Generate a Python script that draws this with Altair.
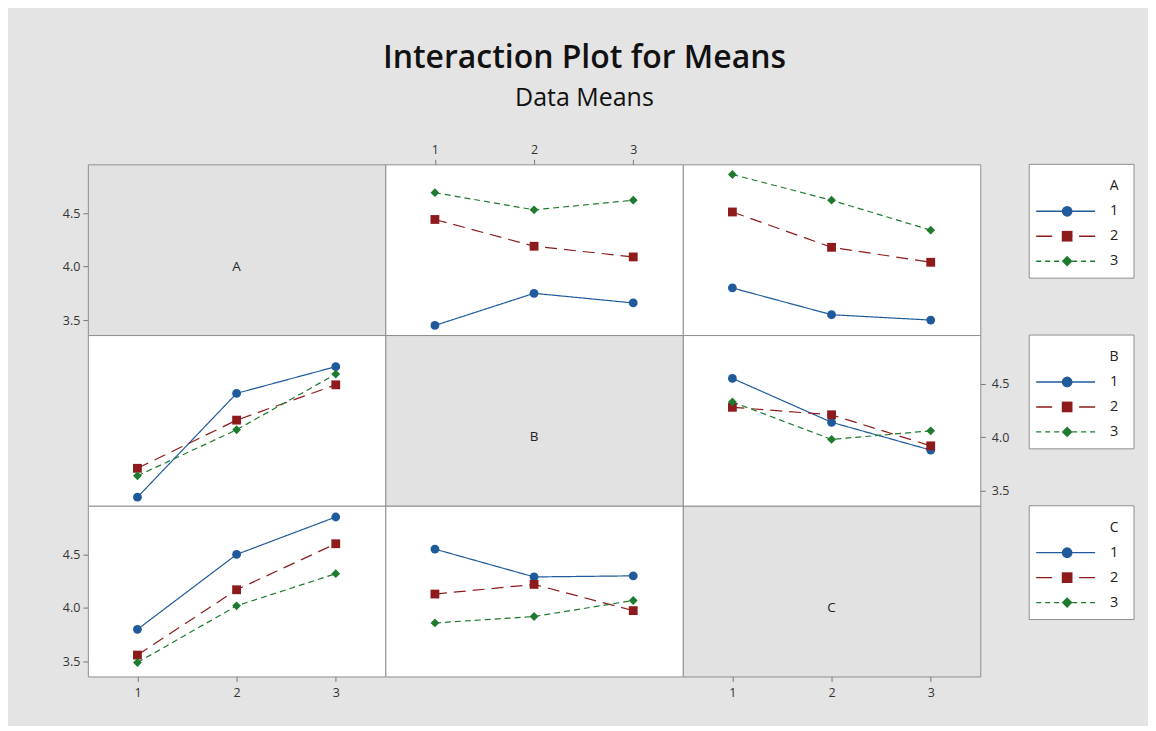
import altair as alt
import pandas as pd

# ---------------- data ----------------
levels = ["1", "2", "3"]
level_index = [1, 2, 3]
x_levels = [1, 2, 3]
factors = ["A", "B", "C"]

# each panel: one list per line level (1, 2, 3), values at x = 1, 2, 3
A_vs_B = [[3.45, 3.75, 3.66], [4.44, 4.19, 4.09], [4.69, 4.53, 4.62]]
A_vs_C = [[3.80, 3.55, 3.50], [4.51, 4.18, 4.04], [4.86, 4.62, 4.34]]
B_vs_A = [[3.44, 4.41, 4.66], [3.71, 4.16, 4.49], [3.64, 4.07, 4.59]]
B_vs_C = [[4.55, 4.14, 3.88], [4.28, 4.21, 3.92], [4.33, 3.98, 4.06]]
C_vs_A = [[3.80, 4.50, 4.85], [3.56, 4.17, 4.60], [3.49, 4.02, 4.32]]
C_vs_B = [[4.55, 4.29, 4.30], [4.13, 4.22, 3.975], [3.86, 3.92, 4.07]]

y_ticks = [3.5, 4.0, 4.5]
x_ticks = [1, 2, 3]

# ---------------- styling ----------------
W, H = 298, 171
Y_DOMAIN = [3.36, 4.955]
X_DOMAIN = [0.5, 3.5]
colors = ["#1F5B9B", "#8E1B1B", "#1D7A2E"]
shapes = ["circle", "square", "diamond"]
marker_sizes = [78, 78, 115]
legend_marker_sizes = [115, 115, 160]
dashes = [[1, 0], [12, 7], [6, 4]]
legend_dashes = [[1, 0], [16, 27], [5, 4]]
BG = "#e4e4e4"
BORDER = "#8f8f8f"
FONT = "Open Sans"

xscale = alt.Scale(domain=X_DOMAIN, nice=False, zero=False)
yscale = alt.Scale(domain=Y_DOMAIN, nice=False, zero=False)
cscale = alt.Scale(domain=levels, range=colors)
sscale = alt.Scale(domain=levels, range=shapes)
dscale = alt.Scale(domain=levels, range=dashes)
ldscale = alt.Scale(domain=levels, range=legend_dashes)
szscale = alt.Scale(domain=levels, range=marker_sizes)
lszscale = alt.Scale(domain=levels, range=legend_marker_sizes)

common_axis = dict(title=None, domain=False, grid=False, ticks=True, tickSize=5,
                   tickColor="#777777", labelColor="#333333", labelFont=FONT,
                   labelFontSize=12.5)
y_left = alt.Axis(orient="left", values=y_ticks, format=".1f", labelPadding=3, **common_axis)
y_right = alt.Axis(orient="right", values=y_ticks, format=".1f", labelPadding=6, **common_axis)
x_bottom = alt.Axis(orient="bottom", values=x_ticks, format="d", labelPadding=5, **common_axis)
x_top = alt.Axis(orient="top", values=x_ticks, format="d", labelPadding=3, **common_axis)


def enc_x(axis):
    if axis is None:
        return alt.X("x:Q", scale=xscale, axis=None)
    return alt.X("x:Q", scale=xscale, axis=axis)


def enc_y(axis):
    if axis is None:
        return alt.Y("y:Q", scale=yscale, axis=None)
    return alt.Y("y:Q", scale=yscale, axis=axis)


def data_panel(vals, xaxis=None, yaxis=None):
    rows = []
    for i, lv in enumerate(levels):
        for j, xv in enumerate(x_levels):
            rows.append({"x": xv, "y": vals[i][j], "level": lv})
    df = pd.DataFrame(rows)
    base = alt.Chart(df).encode(
        x=enc_x(xaxis),
        y=enc_y(yaxis),
        color=alt.Color("level:N", scale=cscale, legend=None),
    )
    lines = base.mark_line(strokeWidth=1.2).encode(
        strokeDash=alt.StrokeDash("level:N", scale=dscale, legend=None)
    )
    pts = base.mark_point(filled=True, opacity=1).encode(
        shape=alt.Shape("level:N", scale=sscale, legend=None),
        size=alt.Size("level:N", scale=szscale, legend=None),
    )
    return alt.layer(lines, pts).properties(
        width=W, height=H, view=alt.ViewBackground(fill="white", stroke=BORDER)
    )


def diag_panel(name, xaxis=None, yaxis=None):
    df = pd.DataFrame({"x": [2.0], "y": [4.0], "label": [name]})
    return alt.Chart(df).mark_text(
        font=FONT, fontSize=13.5, color="#222222", baseline="middle", align="center"
    ).encode(x=enc_x(xaxis), y=enc_y(yaxis), text="label:N").properties(
        width=W, height=H, view=alt.ViewBackground(fill="#e2e2e2", stroke=BORDER)
    )


def legend_panel(name):
    df = pd.DataFrame({"level": levels, "idx": level_index})
    tdf = pd.DataFrame({"t": [name]})
    ly = alt.Y("idx:Q", axis=None, scale=alt.Scale(domain=[1, 3], range=[47, 97], nice=False, zero=False))
    box = alt.Chart(tdf).mark_rect(fill="white", stroke=BORDER, strokeWidth=1).encode(
        x=alt.value(49), x2=alt.value(154), y=alt.value(0), y2=alt.value(114)
    )
    title = alt.Chart(tdf).mark_text(font=FONT, fontSize=14, color="#222222",
                                     align="center", baseline="middle").encode(
        x=alt.value(134), y=alt.value(22), text="t:N"
    )
    rules = alt.Chart(df).mark_rule(strokeWidth=1.4).encode(
        x=alt.value(56), x2=alt.value(115), y=ly,
        color=alt.Color("level:N", scale=cscale, legend=None),
        strokeDash=alt.StrokeDash("level:N", scale=ldscale, legend=None),
    )
    pts = alt.Chart(df).mark_point(filled=True, opacity=1).encode(
        x=alt.value(87), y=ly,
        color=alt.Color("level:N", scale=cscale, legend=None),
        shape=alt.Shape("level:N", scale=sscale, legend=None),
        size=alt.Size("level:N", scale=lszscale, legend=None),
    )
    labels = alt.Chart(df).mark_text(font=FONT, fontSize=14.5, color="#222222",
                                     align="center", baseline="middle").encode(
        x=alt.value(134), y=ly, text="level:N"
    )
    return alt.layer(box, title, rules, pts, labels).properties(
        width=154, height=H,
        view=alt.ViewBackground(fill="transparent", stroke="transparent")
    )


panels = [
    diag_panel("A", yaxis=y_left), data_panel(A_vs_B, xaxis=x_top), data_panel(A_vs_C), legend_panel("A"),
    data_panel(B_vs_A), diag_panel("B"), data_panel(B_vs_C, yaxis=y_right), legend_panel("B"),
    data_panel(C_vs_A, xaxis=x_bottom, yaxis=y_left), data_panel(C_vs_B),
    diag_panel("C", xaxis=x_bottom), legend_panel("C"),
]

chart = alt.concat(*panels, columns=4, spacing=0, bounds="flush").resolve_scale(
    x="independent", y="independent", strokeDash="independent", size="independent"
).properties(
    title=alt.TitleParams(
        "Interaction Plot for Means",
        subtitle="Data Means",
        anchor="middle",
        dx=-14,
        font=FONT, fontSize=32, fontWeight=600, color="#111111",
        subtitleFont=FONT, subtitleFontSize=25, subtitleColor="#111111",
        subtitlePadding=11, offset=31,
    ),
    background=BG,
    padding={"left": 53, "top": 33, "right": 13, "bottom": 26},
).configure_view(strokeWidth=1)

chart.save("out.html", embed_options={"renderer": "svg", "actions": False})
